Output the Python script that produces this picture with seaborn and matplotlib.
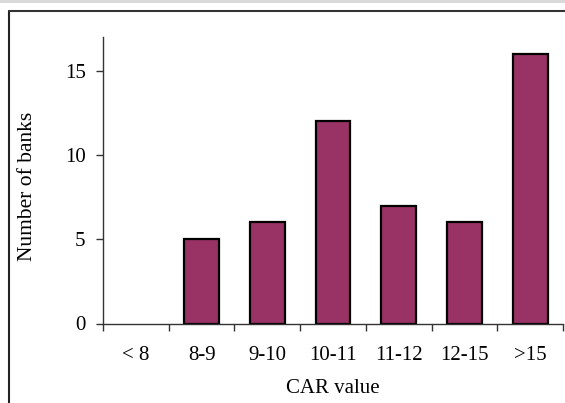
import matplotlib
matplotlib.use("Agg")
import matplotlib.pyplot as plt
import seaborn as sns
import pandas as pd
import numpy as np
from matplotlib.patches import Rectangle

categories = ["< 8", "8-9", "9-10", "10-11", "11-12", "12-15", ">15"]
banks = [0, 5, 6, 12, 7, 6, 16]
yticks = [0, 5, 10, 15]

sns.set_theme(style="white")
plt.rcParams['font.family'] = ['Liberation Serif', 'DejaVu Serif']

df = pd.DataFrame({"CAR value": categories, "Number of banks": banks})

fig = plt.figure(figsize=(5.65, 4.03), dpi=100)
ax = fig.add_axes([103/565, 1 - 323.5/403, (563 - 103)/565, (323.5 - 37)/403])

sns.barplot(data=df, x="CAR value", y="Number of banks", order=categories,
            color="#993366", saturation=1, width=0.53, edgecolor="black",
            linewidth=1.6, ax=ax)
for p in ax.patches:
    if p.get_height() == 0:
        p.set_visible(False)

ax.set_ylim(0, 17)
ax.set_xlim(-0.5, len(categories) - 0.5)
ax.set_yticks(yticks)
ax.set_yticklabels([str(t) for t in yticks], fontsize=15)
ax.set_xticks(np.arange(len(categories) + 1) - 0.5)
ax.set_xticklabels([])
ax.set_xticks(np.arange(len(categories)), minor=True)
ax.set_xticklabels(categories, minor=True, fontsize=15)
ax.tick_params(axis="x", which="major", direction="out", length=5, width=1, color="#333333", bottom=True)
ax.tick_params(axis="x", which="minor", length=0, pad=16)
ax.tick_params(axis="y", direction="out", length=5, width=1, color="#333333", left=True, pad=7.5)
for s in ["top", "right"]:
    ax.spines[s].set_visible(False)
for s in ["left", "bottom"]:
    ax.spines[s].set_color("#333333")
    ax.spines[s].set_linewidth(1)
ax.set_xlabel("CAR value", fontsize=15, labelpad=10.5, color="black")
ax.set_ylabel("Number of banks", fontsize=15.5, labelpad=20, color="black")
ax.yaxis.label.set_y(0.477)
for lab in ax.get_xticklabels(minor=True) + ax.get_yticklabels():
    lab.set_color("black")

# light gray strip on top and figure frame
fig.patches.append(Rectangle((0, 1 - 3/403), 1, 3/403, transform=fig.transFigure,
                             facecolor="#d9d9d9", edgecolor="none", zorder=0))
fig.add_artist(plt.Line2D([8.5/565, 8.5/565], [0, 1 - 11/403], transform=fig.transFigure,
                          color="#222222", linewidth=1.5))
fig.add_artist(plt.Line2D([8.5/565, 1], [1 - 11/403, 1 - 11/403], transform=fig.transFigure,
                          color="#333333", linewidth=1.5))

fig.savefig("out.png", dpi=100)
